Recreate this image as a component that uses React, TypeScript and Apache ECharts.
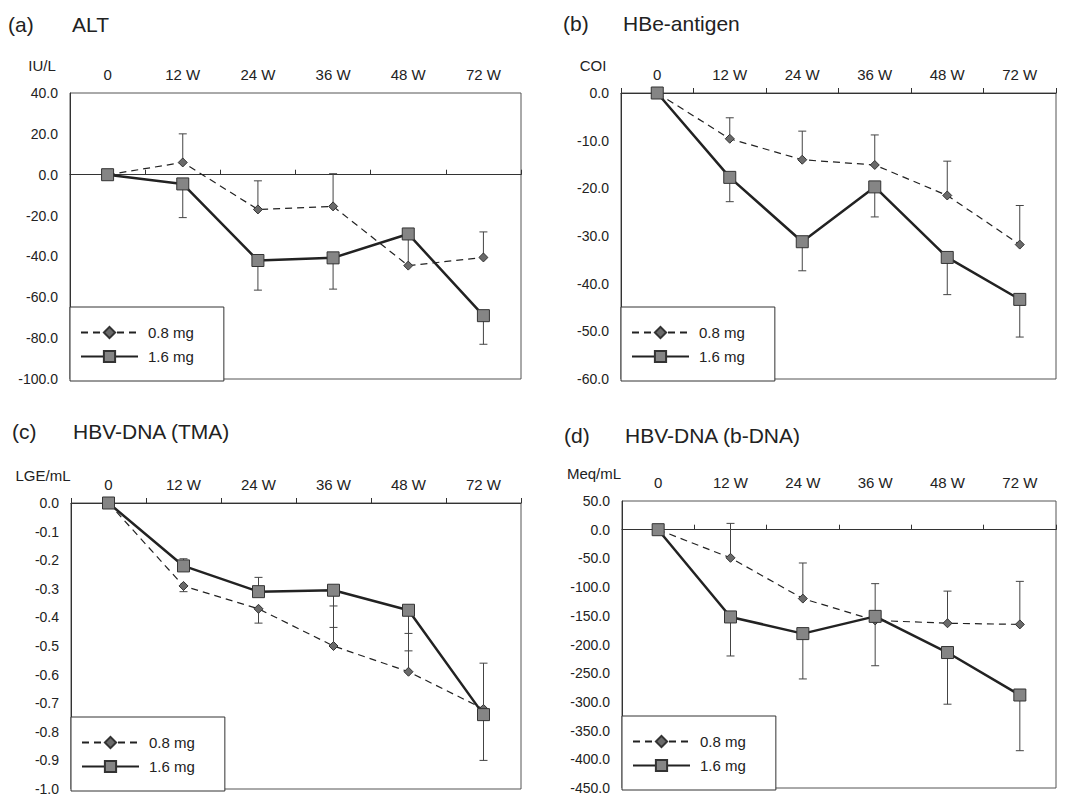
import React, { useEffect, useRef } from "react";
import * as echarts from "echarts";

// ---- Data ----
const categories = ["0", "12 W", "24 W", "36 W", "48 W", "72 W"];
const seriesNames = ["0.8 mg", "1.6 mg"];

// (a) ALT, IU/L
const altLow = [0, 6, -17, -15.5, -44.5, -40.5];
const altHigh = [0, -4.5, -42, -40.7, -29, -69];
const altLowErr = [null, 20, -3, 0.5, -31, -28];
const altHighErr = [null, -21, -56.5, -56, null, -83];

// (b) HBe-antigen, COI
const hbeLow = [0, -9.6, -14, -15.1, -21.5, -31.8];
const hbeHigh = [0, -17.7, -31.2, -19.7, -34.5, -43.3];
const hbeLowErr = [null, -5.2, -8, -8.8, -14.3, -23.6];
const hbeHighErr = [null, -22.8, -37.3, -26, -42.3, -51.2];

// (c) HBV-DNA (TMA), LGE/mL
const tmaLow = [0, -0.29, -0.37, -0.5, -0.59, -0.72];
const tmaHigh = [0, -0.22, -0.31, -0.305, -0.375, -0.74];
const tmaLowErr = [null, -0.31, -0.42, -0.36, -0.456, -0.56];
const tmaHighErr = [null, -0.195, -0.26, -0.435, -0.517, -0.9];

// (d) HBV-DNA (b-DNA), Meq/mL
const bdnaLow = [0, -49, -120, -158, -163, -165];
const bdnaHigh = [0, -152, -181, -151, -214, -288];
const bdnaLowErr = [null, 11, -58, -94, -107, -90];
const bdnaHighErr = [null, -220, -260, -237, -304, -385];

const FONT = "'Liberation Sans', Arial, Helvetica, sans-serif";
const INK = "#222";

type Panel = {
  tag: string;
  title: string;
  unit: string;
  min: number;
  max: number;
  interval: number;
  low: number[];
  high: number[];
  lowErr: (number | null)[];
  highErr: (number | null)[];
  grid: { left: number; top: number; width: number; height: number };
  tagPos: { left: number; top: number };
  titleLeft: number;
};

const panels: Panel[] = [
  {
    tag: "(a)", title: "ALT", unit: "IU/L", min: -100, max: 40, interval: 20,
    low: altLow, high: altHigh, lowErr: altLowErr, highErr: altHighErr,
    grid: { left: 70, top: 93, width: 451, height: 286 },
    tagPos: { left: 8, top: 14 }, titleLeft: 72,
  },
  {
    tag: "(b)", title: "HBe-antigen", unit: "COI", min: -60, max: 0, interval: 10,
    low: hbeLow, high: hbeHigh, lowErr: hbeLowErr, highErr: hbeHighErr,
    grid: { left: 621, top: 93, width: 435, height: 286 },
    tagPos: { left: 563, top: 13 }, titleLeft: 623,
  },
  {
    tag: "(c)", title: "HBV-DNA (TMA)", unit: "LGE/mL", min: -1, max: 0, interval: 0.1,
    low: tmaLow, high: tmaHigh, lowErr: tmaLowErr, highErr: tmaHighErr,
    grid: { left: 71, top: 503, width: 450, height: 286 },
    tagPos: { left: 12, top: 421 }, titleLeft: 73,
  },
  {
    tag: "(d)", title: "HBV-DNA (b-DNA)", unit: "Meq/mL", min: -450, max: 50, interval: 50,
    low: bdnaLow, high: bdnaHigh, lowErr: bdnaLowErr, highErr: bdnaHighErr,
    grid: { left: 622, top: 501, width: 434, height: 287 },
    tagPos: { left: 564, top: 425 }, titleLeft: 625,
  },
];

function errRender(params: any, api: any) {
  const end = api.value(2);
  if (end === null || end === undefined || isNaN(end)) return null;
  const p0 = api.coord([api.value(0), api.value(1)]);
  const p1 = api.coord([api.value(0), end]);
  const style = { stroke: "#444", lineWidth: 1 };
  return {
    type: "group",
    children: [
      { type: "line", shape: { x1: p0[0], y1: p0[1], x2: p1[0], y2: p1[1] }, style },
      { type: "line", shape: { x1: p1[0] - 4, y1: p1[1], x2: p1[0] + 4, y2: p1[1] }, style },
    ],
  };
}

function buildOption() {
  const grid: any[] = [];
  const xAxis: any[] = [];
  const yAxis: any[] = [];
  const series: any[] = [];
  const legend: any[] = [];
  const title: any[] = [];

  panels.forEach((p, i) => {
    grid.push({
      ...p.grid,
      show: true,
      borderColor: "#555",
      borderWidth: 1,
      backgroundColor: "transparent",
    });
    xAxis.push({
      type: "category",
      gridIndex: i,
      position: "top",
      data: categories,
      boundaryGap: true,
      axisLine: { lineStyle: { color: "#333", width: 1 } },
      axisTick: { show: true, length: 5, lineStyle: { color: "#333" } },
      axisLabel: { color: INK, fontSize: 15, fontFamily: FONT, margin: 11 },
      splitLine: { show: false },
    });
    yAxis.push({
      type: "value",
      gridIndex: i,
      min: p.min,
      max: p.max,
      interval: p.interval,
      name: p.unit,
      nameLocation: "end",
      nameGap: 20,
      nameTextStyle: { color: INK, fontSize: 15, fontFamily: FONT, align: "center", padding: [0, 56, 0, 0] },
      axisLine: { show: true, lineStyle: { color: "#333", width: 1 } },
      axisTick: { show: false },
      axisLabel: {
        color: INK, fontSize: 14, fontFamily: FONT, margin: 12,
        formatter: (v: number) => (Math.abs(v) < 1e-9 ? 0 : v).toFixed(1),
      },
      splitLine: { show: false },
    });
    const errLow = categories.map((_, k) => [k, p.low[k], p.lowErr[k]]);
    const errHigh = categories.map((_, k) => [k, p.high[k], p.highErr[k]]);
    series.push({
      type: "custom", name: "err-0.8-" + i, xAxisIndex: i, yAxisIndex: i, z: 1,
      renderItem: errRender, data: errLow, encode: { x: 0, y: [1, 2] }, silent: true,
    });
    series.push({
      type: "custom", name: "err-1.6-" + i, xAxisIndex: i, yAxisIndex: i, z: 1,
      renderItem: errRender, data: errHigh, encode: { x: 0, y: [1, 2] }, silent: true,
    });
    series.push({
      type: "line", name: seriesNames[0], xAxisIndex: i, yAxisIndex: i, z: 3,
      data: p.low,
      symbol: "diamond", symbolSize: 9,
      lineStyle: { color: "#222", width: 1.2, type: [7, 5] },
      itemStyle: { color: "#6a6a6a", borderColor: "#333", borderWidth: 1 },
    });
    series.push({
      type: "line", name: seriesNames[1], xAxisIndex: i, yAxisIndex: i, z: 4,
      data: p.high,
      symbol: "rect", symbolSize: 12,
      lineStyle: { color: "#222", width: 2.5 },
      itemStyle: { color: "#858585", borderColor: "#333", borderWidth: 1 },
    });
    legend.push({
      data: seriesNames,
      orient: "vertical",
      left: p.grid.left,
      top: p.grid.top + p.grid.height - 72,
      itemWidth: 57,
      itemHeight: 14,
      itemGap: 9,
      padding: [18, 30, 17, 10],
      backgroundColor: "#fff",
      borderColor: "#333",
      borderWidth: 1,
      textStyle: { color: INK, fontSize: 15, fontFamily: FONT, padding: [0, 0, 0, 5] },
      selectedMode: false,
    });
    title.push({
      text: p.tag, left: p.tagPos.left, top: p.tagPos.top, padding: 0,
      textStyle: { color: INK, fontSize: 21, fontWeight: "normal", fontFamily: FONT },
    });
    title.push({
      text: p.title, left: p.titleLeft, top: p.tagPos.top, padding: 0,
      textStyle: { color: INK, fontSize: 21, fontWeight: "normal", fontFamily: FONT },
    });
  });

  return {
    animation: false,
    backgroundColor: "#fff",
    textStyle: { fontFamily: FONT },
    title, grid, xAxis, yAxis, series, legend,
  };
}

export default function App() {
  const ref = useRef<HTMLDivElement>(null);
  useEffect(() => {
    if (!ref.current) return;
    const chart = echarts.init(ref.current, undefined, { renderer: "svg" });
    chart.setOption(buildOption() as any);
    return () => chart.dispose();
  }, []);
  return (
    <div
      ref={ref}
      style={{ position: "fixed", left: 0, top: 0, width: 1071, height: 796, background: "#fff" }}
    />
  );
}
